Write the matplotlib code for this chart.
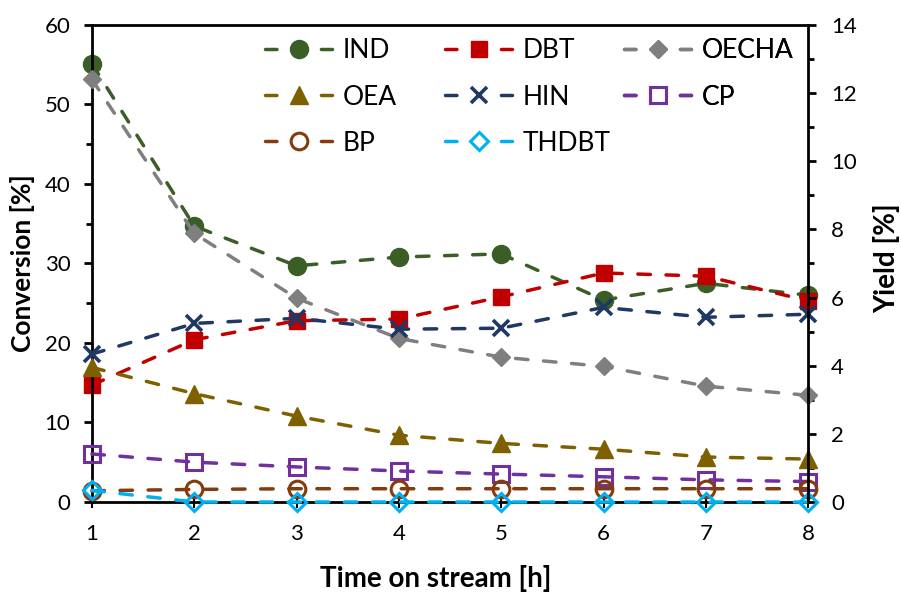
import matplotlib.pyplot as plt
from matplotlib.ticker import MultipleLocator
from matplotlib.lines import Line2D

plt.rcParams['font.family'] = ['Lato', 'DejaVu Sans']

hours = [1, 2, 3, 4, 5, 6, 7, 8]

# conversion [%] (left axis)
ind = [55.1, 34.7, 29.7, 30.8, 31.2, 25.4, 27.5, 26.0]
dbt = [14.7, 20.4, 22.8, 23.0, 25.8, 28.8, 28.4, 25.3]

# yield [%] (right axis)
oecha = [12.4, 7.88, 5.98, 4.80, 4.25, 3.98, 3.40, 3.13]
oea = [3.95, 3.18, 2.52, 1.96, 1.72, 1.55, 1.32, 1.26]
hin = [4.34, 5.24, 5.39, 5.07, 5.10, 5.71, 5.42, 5.51]
cp = [1.41, 1.17, 1.03, 0.91, 0.82, 0.74, 0.65, 0.60]
bp = [0.33, 0.37, 0.39, 0.39, 0.39, 0.39, 0.39, 0.39]
thdbt = [0.34, 0.0, 0.0, 0.0, 0.0, 0.0, 0.0, 0.0]

lw = 2.5
dash = (0, (3.6, 4.5))        # plot lines
leg_dash = (0, (3.3, 12.8))   # legend: dash - marker - dash

fig = plt.figure(figsize=(9.01, 5.92), dpi=100)
ax = fig.add_axes([0.102, 0.152, 0.795, 0.806])
ax2 = ax.twinx()

styles = {}

def series(a, y, color, marker, label, ms, filled=True, mew=1.0):
    kw = dict(color=color, lw=lw, marker=marker, ms=ms, mew=mew, mec=color,
              mfc=color if filled else 'none', dash_capstyle='round')
    a.plot(hours, y, ls=dash, clip_on=False, **kw)
    styles[label] = kw

series(ax, ind, '#3B5E27', 'o', 'IND', 13)
series(ax, dbt, '#C00000', 's', 'DBT', 12)
series(ax2, oecha, '#7F7F7F', 'D', 'OECHA', 9.3)
series(ax2, oea, '#7F6000', '^', 'OEA', 12.5)
series(ax2, hin, '#203864', 'x', 'HIN', 11.5, mew=2.6)
series(ax2, cp, '#7030A0', 's', 'CP', 11, filled=False, mew=2.2)
series(ax2, bp, '#843C0C', 'o', 'BP', 12, filled=False, mew=2.2)
series(ax2, thdbt, '#00B0F0', 'D', 'THDBT', 9, filled=False, mew=2.2)

ax.set_xlim(1, 8)
ax.set_ylim(0, 60)
ax2.set_ylim(0, 14)
ax.set_xticks(hours)
ax.yaxis.set_major_locator(MultipleLocator(10))
ax.yaxis.set_minor_locator(MultipleLocator(5))
ax2.yaxis.set_major_locator(MultipleLocator(2))
ax2.yaxis.set_minor_locator(MultipleLocator(1))

for a in (ax, ax2):
    for s in a.spines.values():
        s.set_linewidth(2)
ax2.spines['left'].set_visible(False)
ax2.spines['bottom'].set_visible(False)
ax2.spines['top'].set_visible(False)
ax.spines['right'].set_visible(False)

ax.tick_params(axis='x', direction='inout', length=9, width=1.5, labelsize=16, pad=11)
ax.tick_params(axis='y', which='major', direction='out', length=5.5, width=2, labelsize=16, pad=10)
ax.tick_params(axis='y', which='minor', direction='out', length=4, width=2)
ax2.tick_params(axis='y', which='major', direction='out', length=5.5, width=2, labelsize=16, pad=11)
ax2.tick_params(axis='y', which='minor', direction='out', length=4, width=2)

ax.set_xlabel('Time on stream [h]', fontsize=20, fontweight='bold')
ax.set_ylabel('Conversion [%]', fontsize=19, fontweight='bold')
ax2.set_ylabel('Yield [%]', fontsize=20, fontweight='bold')
ax.xaxis.set_label_coords(0.48, -0.132)
ax.yaxis.set_label_coords(-0.080, 0.5)
ax2.yaxis.set_label_coords(1.091, 0.51)

# legend: three equal-width columns, row-major order like the original
columns = [['IND', 'OEA', 'BP'], ['DBT', 'HIN', 'THDBT'], ['OECHA', 'CP']]
col_x = [0.294, 0.494, 0.6926]
for names, x in zip(columns, col_x):
    handles = [Line2D([], [], ls=leg_dash, **styles[n]) for n in names]
    leg = ax2.legend(handles, names, loc='upper left', bbox_to_anchor=(x, 0.935),
                     bbox_transform=fig.transFigure, frameon=False, fontsize=19,
                     handlelength=2.55, handletextpad=0.4, labelspacing=0.8,
                     borderpad=0, borderaxespad=0)
    ax2.add_artist(leg)

fig.savefig('out.png', dpi=100)
